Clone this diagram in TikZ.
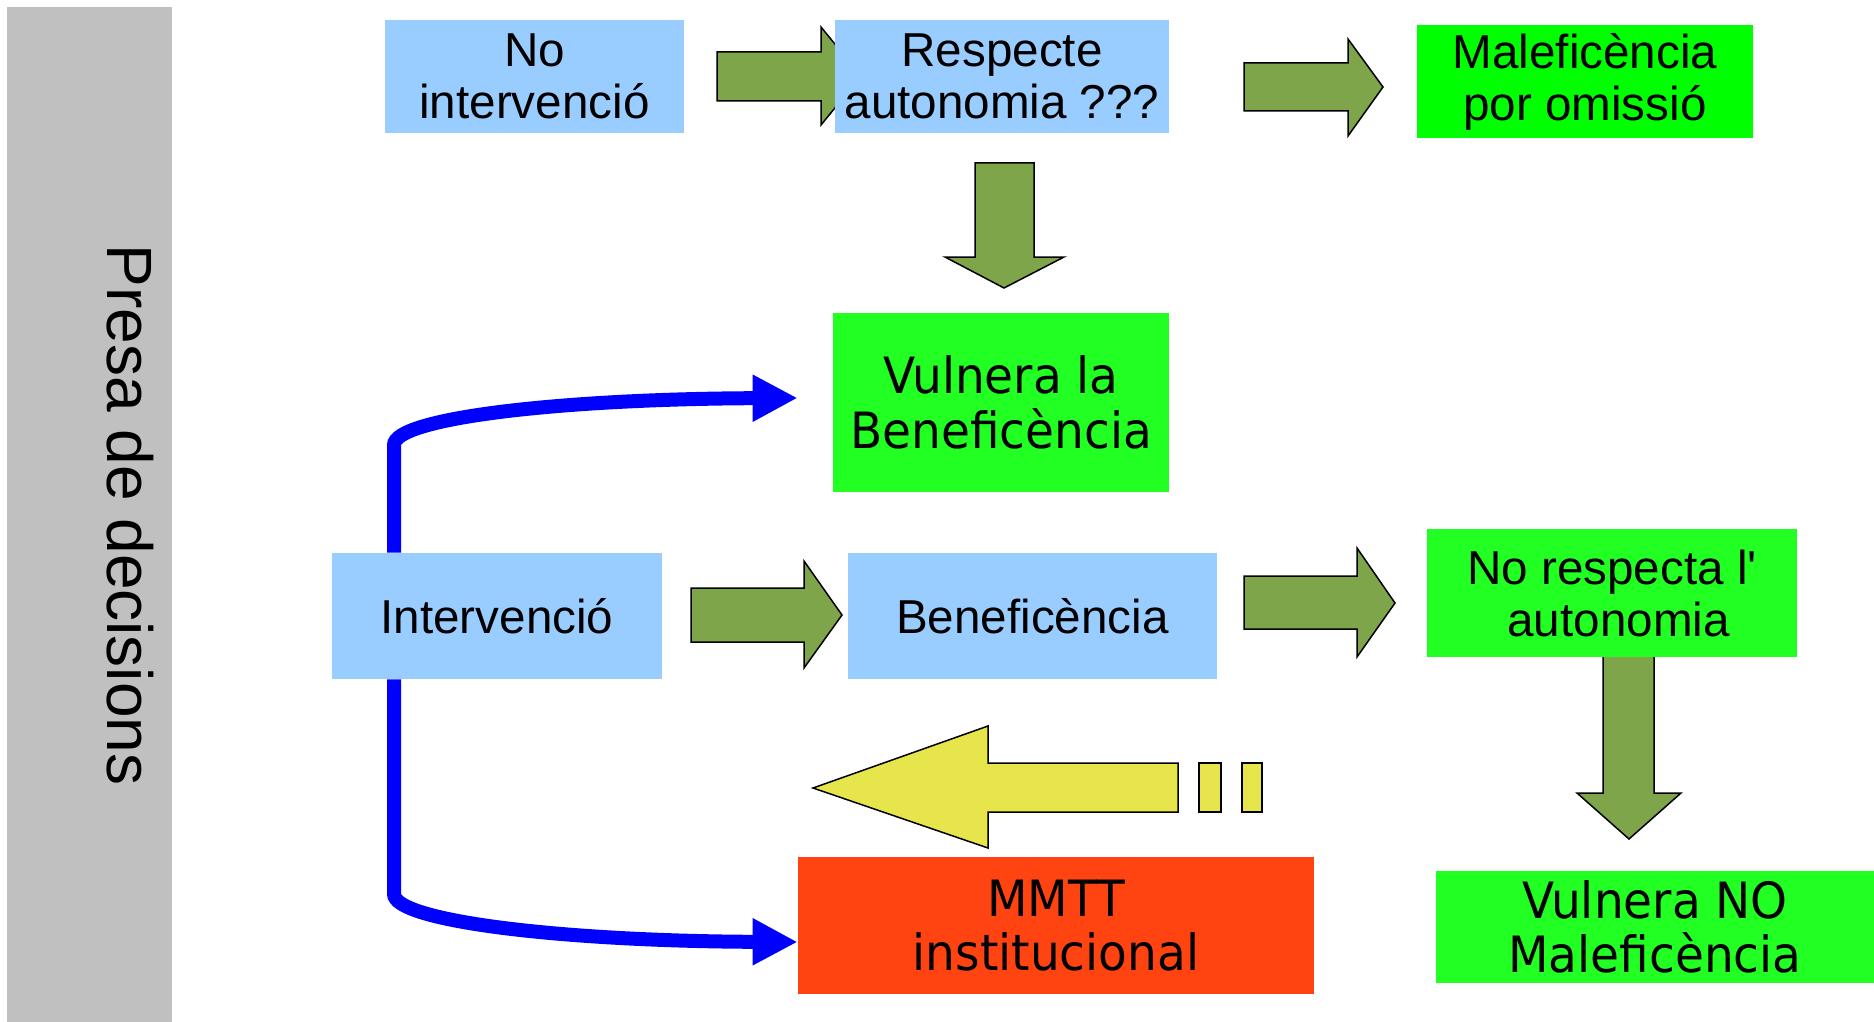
\documentclass[tikz,border=0pt]{standalone}
\usepackage{fontspec}
\setmainfont{Liberation Sans}
\newfontfamily\widesans{DejaVu Sans}[FakeStretch=0.94]
\usetikzlibrary{arrows.meta}
\definecolor{boxblue}{HTML}{99CCFF}
\definecolor{boxgreen}{HTML}{22FF22}
\definecolor{puregreen}{HTML}{00FF00}
\definecolor{boxred}{HTML}{FF4411}
\definecolor{arrowgreen}{HTML}{7FA54A}
\definecolor{arrowyellow}{HTML}{E6E64C}
\definecolor{bargray}{HTML}{C0C0C0}

\begin{document}
\begin{tikzpicture}[
    x=0.5pt, y=-0.5pt,
    box/.style={rectangle, inner sep=0pt, align=center, font=\fontsize{23.8}{26}\selectfont},
    bigbox/.style={box, font=\widesans\fontsize{25}{27.3}\selectfont},
    blockarrow/.style={draw=black, line width=0.75pt, fill=arrowgreen},
    link/.style={draw=blue, line width=7pt, -{Triangle[length=22.5pt, width=22pt]}}
]
    \useasboundingbox (0,0) rectangle (1874,1022);
    \node[fill=bargray, inner sep=0pt, minimum width=82.5pt, minimum height=507.5pt] (bar) at (89.5,514.5) {};
    \node[rotate=-90, font=\fontsize{32}{32}\selectfont] (title) at (130,515) {Presa de decisions};

    % block arrows
    \draw[blockarrow] (717,52) -- (821,52) -- (821,27) -- (861,76) -- (821,125) -- (821,101) -- (717,101) -- cycle;
    \draw[blockarrow] (1244,63) -- (1348,63) -- (1348,39) -- (1383,87) -- (1348,136) -- (1348,111) -- (1244,111) -- cycle;
    \draw[blockarrow] (975,163) -- (1034,163) -- (1034,257) -- (1064,257) -- (1004,288) -- (945,257) -- (975,257) -- cycle;
    \draw[blockarrow] (691,588) -- (804,588) -- (804,561) -- (842,615) -- (804,668) -- (804,642) -- (691,642) -- cycle;
    \draw[blockarrow] (1244,576) -- (1357,576) -- (1357,548) -- (1395,603) -- (1357,657) -- (1357,629) -- (1244,629) -- cycle;
    \draw[blockarrow] (1603,640) -- (1654,640) -- (1654,793) -- (1681,793) -- (1629,839) -- (1577,793) -- (1603,793) -- cycle;
    \draw[blockarrow, fill=arrowyellow] (813,788) -- (988,726) -- (988,763) -- (1178,763) -- (1178,812) -- (988,812) -- (988,848) -- cycle;
    \draw[blockarrow, fill=arrowyellow] (1199,763) rectangle (1221,812);
    \draw[blockarrow, fill=arrowyellow] (1242,763) rectangle (1262,812);

    \node[box, fill=boxblue, minimum width=149.5pt, minimum height=56.5pt] (noint) at (534.5,76.5) {No\\intervenció};
    \node[box, fill=boxblue, minimum width=167pt, minimum height=56.5pt] (resp) at (1002,76.5) {Respecte\\autonomia ???};
    \node[box, fill=puregreen, minimum width=168pt, minimum height=56.5pt] (malef) at (1585,81.5) {Maleficència\\por omissió};
    \node[bigbox, fill=boxgreen, minimum width=168pt, minimum height=89.5pt] (vuln) at (1001,402.5) {Vulnera la\\Beneficència};
    \node[box, fill=boxblue, minimum width=165pt, minimum height=63pt] (inter) at (497,616) {Intervenció};
    \node[box, fill=boxblue, minimum width=184.5pt, minimum height=63pt] (benef) at (1032.5,616) {Beneficència};
    \node[box, fill=boxgreen, minimum width=185pt, minimum height=64pt] (norespecta) at (1612,593) {No respecta l\textquotesingle\\\mbox{ }autonomia};
    \node[bigbox, fill=boxred, minimum width=258pt, minimum height=68.5pt] (mmtt) at (1056,925.5) {MMTT\\institucional};
    \node[bigbox, fill=boxgreen, minimum width=219pt, minimum height=56pt] (vulnno) at (1655,927) {Vulnera NO\\Maleficència};

    % blue links
    \coordinate (spine) at (394,0);
    \draw[link] (spine |- inter.north) -- (394,445) .. controls (394,418) and (560,399) .. ([xshift=-17.5pt, yshift=2.25pt]vuln.west);
    \draw[link] (spine |- inter.south) -- (394,894) .. controls (394,921) and (560,941) .. ([yshift=-8.25pt]mmtt.west);
\end{tikzpicture}
\end{document}
